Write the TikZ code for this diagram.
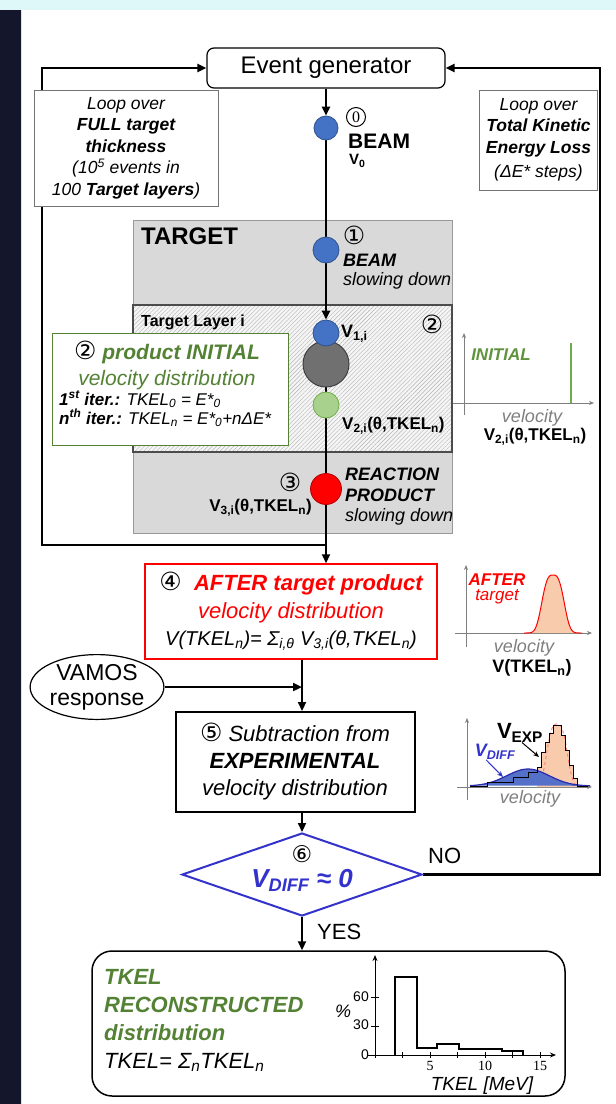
\documentclass[tikz,border=0pt]{standalone}
\usepackage{fontspec}
\setmainfont{Liberation Sans}
\newfontfamily\circfont{DejaVu Sans}
\newfontfamily\serifnum{Liberation Serif}
\usetikzlibrary{arrows.meta, positioning, shapes.geometric, calc, patterns.meta, backgrounds}
\pgfdeclarelayer{canvas}
\pgfsetlayers{canvas,background,main}

\definecolor{beamblue}{RGB}{68,114,196}
\definecolor{beamedge}{RGB}{47,82,143}
\definecolor{prodgray}{RGB}{112,112,112}
\definecolor{prodgreen}{RGB}{169,209,142}
\definecolor{initgreen}{RGB}{84,130,53}
\definecolor{linegreen}{RGB}{112,173,71}
\definecolor{afterred}{RGB}{255,0,0}
\definecolor{targetgray}{RGB}{217,217,217}
\definecolor{axisgray}{RGB}{127,127,127}
\definecolor{diffblue}{RGB}{51,51,204}
\definecolor{humpblue}{RGB}{84,112,200}
\definecolor{afterpink}{RGB}{248,203,173}
\definecolor{topband}{RGB}{222,248,250}
\definecolor{sidenavy}{RGB}{20,22,44}
\definecolor{sidenavymid}{RGB}{44,48,96}

\newcommand{\fsz}[2]{\fontsize{#1pt}{#2pt}\selectfont}
\newcommand{\stepnum}[1]{{\color{black}\circfont\fsz{25}{27}#1}}
\newcommand{\low}[1]{\textsubscript{#1}}

\begin{document}
\begin{tikzpicture}[x=1pt, y=-1pt,
  arrow/.style={-{Triangle[length=9pt, width=8pt]}, line width=2.2pt},
  flow/.style={line width=2.2pt},
  plainbox/.style={rectangle, draw=black, fill=white, line width=1.6pt, align=center, inner sep=0pt},
  loopbox/.style={rectangle, draw=black!55, fill=white, line width=0.8pt, align=center, inner sep=0pt,
                  font=\fsz{17.5}{21.5}\itshape},
  dot/.style={circle, draw=beamedge, fill=beamblue, line width=0.8pt, minimum size=26pt, inner sep=0pt},
  txt/.style={inner sep=0pt, font=\fsz{18}{22}},
  num/.style={inner sep=0pt, font=\fsz{25}{27}\circfont},
  ringnum/.style={circle, draw=black, line width=1pt, minimum size=19pt, inner sep=0pt,
                  font=\fsz{16}{17}\serifnum},
  axis/.style={-{Stealth[length=5pt, width=4pt]}, draw=axisgray, line width=0.8pt},
  vel/.style={inner sep=0pt, text=axisgray, font=\fsz{18}{22}\itshape}
]
\useasboundingbox (0,0) rectangle (616,1104);
\begin{pgfonlayer}{canvas}
\fill[white] (0,0) rectangle (616,1104);
\fill[topband] (0,0) rectangle (616,10);
\shade[top color=sidenavy, middle color=sidenavymid, bottom color=sidenavy] (0,10) rectangle (21,1104);
\end{pgfonlayer}

% event generator and loop boxes
\node[plainbox, rounded corners=7pt, line width=1.2pt, minimum width=238pt, minimum height=40pt,
      font=\fsz{24}{28}] (gen) at (326,68) {Event generator};
\node[loopbox, minimum width=184pt, minimum height=116pt] (loopfull) at (126,148)
  {Loop over\\ \textbf{FULL target}\\ \textbf{thickness}\\ (10\textsuperscript{5} events in\\ 100 \textbf{Target layers})};
\node[loopbox, minimum width=118pt, minimum height=100pt] (looptkel) at (538.5,140)
  {Loop over\\ \textbf{Total Kinetic}\\ \textbf{Energy Loss}\\[3pt] (ΔE* steps)};

% beam before the target
\node[dot, minimum size=24pt] (c0) at (326,128) {};
\node[ringnum] (n0) at (356,117) {0};
\node[txt, anchor=west, font=\fsz{21}{24}\bfseries] (beam0) at (348,141) {BEAM};
\node[txt, anchor=west, font=\fsz{15}{18}\bfseries] (v0) at (349,161) {V\low{0}};

% target and target layer
\begin{scope}[on background layer]
\node[rectangle, fill=targetgray, draw=black!40, line width=1pt, minimum width=319pt,
      minimum height=313pt] (target) at (292.5,376.5) {};
\node[rectangle, draw=black!70, line width=1.3pt, preaction={fill=black!4},
      pattern={Lines[angle=45, distance=3pt, line width=0.4pt]}, pattern color=black!30,
      minimum width=319pt, minimum height=147pt] (layer) at (292.5,378.5) {};
\end{scope}
\node[txt, anchor=west, font=\fsz{24}{28}\bfseries] (targetlbl) at (141,236) {TARGET};
\node[dot] (c1) at (326,250) {};
\node[num] (n1) at (354,235) {①};
\node[txt, anchor=west, font=\fsz{18}{22}\bfseries\itshape] (beam1) at (343,260) {BEAM};
\node[txt, anchor=west, font=\fsz{18}{22}\itshape] (slow1) at (343,281) {slowing down};

\node[txt, anchor=west, font=\fsz{16}{20}\bfseries] (layerlbl) at (141,322) {Target Layer i};
\node[num] (n2) at (432,324) {②};
\node[circle, draw=black!75, fill=prodgray, line width=1pt, minimum size=46pt, inner sep=0pt] (cgray) at (326,364) {};
\node[dot] (c1i) at (326,333) {};
\node[txt, anchor=west, font=\fsz{18}{22}\bfseries] (v1i) at (341,334) {V\low{1,i}};
\node[circle, draw=linegreen, fill=prodgreen, line width=0.8pt, minimum size=26pt, inner sep=0pt] (cgreen) at (326,405) {};
\node[txt, anchor=west, font=\fsz{17}{20}\bfseries] (v2i) at (342,426) {V\low{2,i}(θ,TKEL\low{n})};

% product initial distribution
\node[rectangle, draw=initgreen, fill=white, line width=1.6pt, minimum width=236pt,
      minimum height=112pt] (initbox) at (170.5,389.5) {};
\node[txt, align=center, text=initgreen, font=\fsz{21}{26}\itshape] (inithead) at (167,365)
  {\stepnum{②} \textbf{product INITIAL}\\ velocity distribution};
\node[txt, anchor=west, align=left, font=\fsz{17}{19}\itshape] (inititer) at (59,409)
  {\textbf{1\textsuperscript{st} iter.:} TKEL\low{0} = E*\low{0}\\ \textbf{n\textsuperscript{th} iter.:} TKEL\low{n} = E*\low{0}+nΔE*};

% reaction product
\node[circle, draw=afterred!70!black, fill=afterred, line width=0.8pt, minimum size=31pt, inner sep=0pt] (c3) at (326,489) {};
\node[num] (n3) at (290,482) {③};
\node[txt, anchor=east, font=\fsz{17}{20}\bfseries] (v3i) at (312,508) {V\low{3,i}(θ,TKEL\low{n})};
\node[txt, anchor=west, align=left, font=\fsz{18}{21}\bfseries\itshape] (react) at (345,485) {REACTION\\ PRODUCT};
\node[txt, anchor=west, font=\fsz{18}{22}\itshape] (slow3) at (345,517) {slowing down};

% after target distribution
\node[plainbox, draw=afterred, line width=1.5pt, minimum width=292pt, minimum height=95pt,
      text=afterred, font=\fsz{22}{27.5}\itshape] (after) at (291,611.5)
  {\stepnum{④}\ \ \textbf{AFTER target product}\\ velocity distribution\\
   {\color{black}\fsz{20}{24}V(TKEL\low{n})= Σ\low{i,θ} V\low{3,i}(θ,TKEL\low{n})}};

% response and subtraction
\node[ellipse, draw=black, line width=1.2pt, minimum width=127pt, minimum height=62pt, inner sep=0pt,
      align=center, font=\fsz{23}{25}] (vamos) at (97,687) {VAMOS\\response};
\node[plainbox, line width=2pt, minimum width=239pt, minimum height=100pt,
      font=\fsz{22}{27}\itshape] (sub) at (295,762)
  {\stepnum{⑤} Subtraction from\\ \textbf{EXPERIMENTAL}\\ velocity distribution};

% decision
\node[diamond, draw=diffblue, fill=white, line width=2pt, minimum width=240pt, minimum height=83pt,
      inner sep=0pt] (dec) at (302,874.5) {};
\node[num, font=\fsz{23}{25}\circfont] (n6) at (302,854) {⑥};
\node[txt, text=diffblue, font=\fsz{26}{30}\bfseries\itshape] (vdiff) at (302,880) {V\low{DIFF} ≈ 0};
\node[txt, anchor=west, font=\fsz{22}{26}] (no) at (428,856) {NO};
\node[txt, anchor=west, font=\fsz{22}{26}] (yes) at (317,932) {YES};

% reconstructed distribution
\node[rectangle, draw=black, fill=white, line width=1.5pt, rounded corners=20pt, minimum width=473pt,
      minimum height=145pt] (result) at (328.5,1023.5) {};
\node[txt, anchor=west, align=left, text=initgreen, font=\fsz{22}{28}\bfseries\itshape] (reco) at (104,1005)
  {TKEL\\ RECONSTRUCTED\\ distribution};
\node[txt, anchor=west, font=\fsz{22}{26}\itshape] (tkelsum) at (104,1062) {TKEL= Σ\low{n}TKEL\low{n}};

\draw[-{Stealth[length=6pt, width=5pt]}, line width=1pt] (375,1058) -- (375,955);
\draw[-{Stealth[length=6pt, width=5pt]}, line width=1pt] (368,1055) -- (556,1055);
\foreach \yy in {997,1026} \draw[line width=0.8pt] (371,\yy) -- (379,\yy);
\foreach \xx in {402.5,430,457.5,485,512.5,540} \draw[line width=0.8pt] (\xx,1052) -- (\xx,1058);
\draw[line width=1.6pt] (395,1055) |- (417,977) |- (437,1048) |- (459,1044) |- (502,1049) |- (523,1051) -- (523,1055);
\node[txt, anchor=east, font=\fsz{14}{16}] (t60) at (369,997) {60};
\node[txt, anchor=east, font=\fsz{14}{16}] (t30) at (369,1025) {30};
\node[txt, anchor=east, font=\fsz{14}{16}] (t0) at (369,1055) {0};
\node[txt, font=\fsz{18}{20}\itshape] (pct) at (343,1011) {\%};
\node[txt, font=\fsz{14}{16}\serifnum] (t5) at (430,1066) {5};
\node[txt, font=\fsz{14}{16}\serifnum] (t10) at (485,1066) {10};
\node[txt, font=\fsz{14}{16}\serifnum] (t15) at (540,1066) {15};
\node[txt, font=\fsz{19}{21}\itshape] (tkelaxis) at (482,1086) {TKEL [MeV]};

% initial velocity chart
\draw[axis] (464,415) -- (464,333);
\draw[axis] (453,403) -- (594,403);
\draw[linegreen, line width=1.6pt] (571,403) -- (571,343);
\node[txt, text=linegreen!85!black, font=\fsz{17}{20}\bfseries\itshape] (initlbl) at (501,355) {INITIAL};
\node[vel] (vela) at (532,418) {velocity};
\node[txt, font=\fsz{17}{20}\bfseries] (v2out) at (535,437) {V\low{2,i}(θ,TKEL\low{n})};

% after target chart
\draw[axis] (466,647) -- (466,565);
\draw[axis] (455,633) -- (592,633);
\draw[afterred, line width=1pt, fill=afterpink] plot[domain=524:582, samples=80, smooth]
  (\x,{633-58*exp(-(abs(\x-553)/13)^3)});
\node[txt, align=center, text=afterred, font=\fsz{17}{15}\itshape] (afterlbl) at (497,589) {\textbf{AFTER}\\ target};
\node[vel] (velb) at (524,648) {velocity};
\node[txt, font=\fsz{18}{22}\bfseries] (vtkel) at (532,668) {V(TKEL\low{n})};

% experimental and difference chart
\draw[axis] (467,800) -- (467,718);
\draw[axis] (457,787) -- (592,787);
\fill[afterpink] (537,787) -- (537,767) -| (541,752) -| (545,742) -| (549,733) -| (553,725) -| (561,735)
  -| (565,750) -| (569,765) -| (573,778) -| (577,787) -- cycle;
\draw[afterred!55, dashed, line width=0.8pt] plot[domain=540:584, samples=40, smooth]
  (\x,{786-62*exp(-(abs(\x-557)/12)^3)});
\draw[diffblue!85!black, line width=1.2pt, fill=humpblue] plot[domain=470:590, samples=60, smooth]
  (\x,{786-17*exp(-((\x-528)/30)^2)});
\draw[black, line width=0.8pt] (470,786) -| (487,782) -| (513,777) -| (528,772) -| (537,767) -| (541,752)
  -| (545,742) -| (549,733) -| (553,725) -| (561,735) -| (565,750) -| (569,765) -| (573,778) -| (577,786) -- (588,786);
\node[txt, font=\fsz{22}{24}\bfseries] (vexp) at (520,733) {V\low{EXP}};
\node[txt, text=diffblue, font=\fsz{18}{22}\bfseries\itshape] (vdifflbl) at (495,752) {V\low{DIFF}};
\coordinate (expend) at (539,757);
\coordinate (diffend) at (503,777);
\draw[-{Stealth[length=6pt, width=5pt]}, line width=1pt] ([xshift=2pt]vexp.south) -- (expend);
\draw[-{Stealth[length=6pt, width=5pt]}, diffblue, line width=1pt] ([xshift=-9pt]vdifflbl.south) -- (diffend);
\node[vel] (velc) at (530,799) {velocity};

% connectors
\coordinate (spine) at (302,0);
\coordinate (loopjoin) at (326,545);
\coordinate (loopleft) at (42,0);
\coordinate (loopright) at (600,0);
\begin{scope}[on background layer]
\draw[arrow] (gen.south) -- (c0.north);
\draw[arrow] (c0) -- (c1i.north);
\draw[arrow] (c1i) -- (c1i |- after.north);
\draw[arrow] (loopjoin) -- (loopjoin -| loopleft) -- (loopleft |- gen.west) -- (gen.west);
\draw[arrow] (after.south -| spine) -- (sub.north -| spine);
\draw[arrow] (vamos.east) -- (vamos.east -| spine);
\draw[arrow] (sub.south -| spine) -- (dec.north);
\draw[arrow] (dec.east) -- (dec.east -| loopright) -- (loopright |- gen.east) -- (gen.east);
\draw[arrow] (dec.south) -- (dec.south |- result.north);
\end{scope}
\end{tikzpicture}
\end{document}
